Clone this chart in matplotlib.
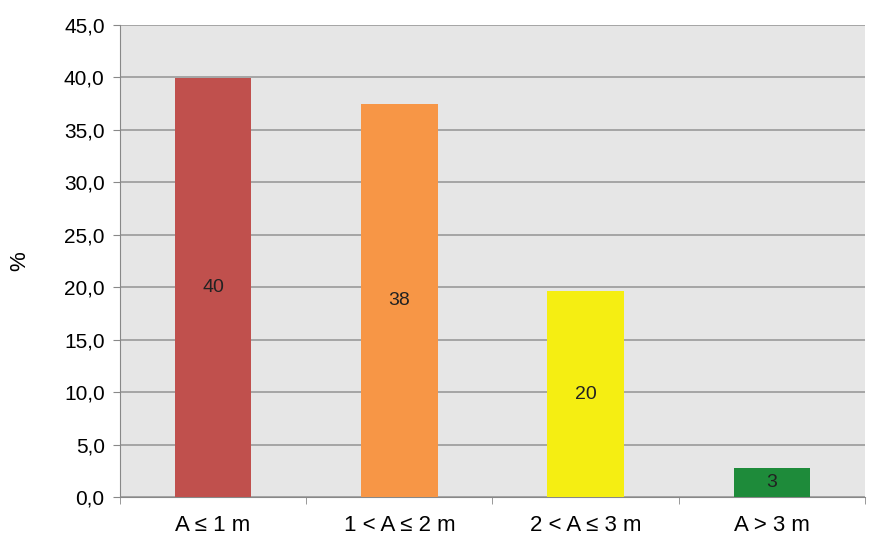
import matplotlib
matplotlib.use("Agg")
import matplotlib.pyplot as plt
from matplotlib.ticker import FuncFormatter

categories = ["A \u2264 1 m", "1 < A \u2264 2 m", "2 < A \u2264 3 m", "A > 3 m"]
values = [39.9, 37.5, 19.6, 2.8]
labels = ["40", "38", "20", "3"]
colors = ["#c0504d", "#f79646", "#f5ee12", "#1e8b3a"]

plt.rcParams['font.family'] = ['Liberation Sans', 'DejaVu Sans']

fig = plt.figure(figsize=(8.77, 5.4), dpi=100)
ax = fig.add_axes([0.1368, 0.0796, 0.8495, 0.8741])
ax.set_facecolor("#e6e6e6")

x = range(len(categories))
ax.bar(x, values, width=0.41, color=colors, zorder=3)
for xi, v, lab in zip(x, values, labels):
    ax.text(xi, v / 2, lab, ha="center", va="center", fontsize=14, color="#222222", zorder=4)

ax.set_xlim(-0.5, len(categories) - 0.5)
ax.set_ylim(0, 45)
ax.set_yticks([i * 5 for i in range(10)])
ax.yaxis.set_major_formatter(FuncFormatter(lambda v, p: ("%.1f" % v).replace(".", ",")))
ax.yaxis.grid(True, color="#9a9a9a", linewidth=1.2, zorder=0)

ax.set_xticks(list(x))
ax.set_xticklabels(categories, fontsize=16)
ax.set_xticks([i + 0.5 for i in range(-1, len(categories))], minor=True)
ax.tick_params(axis="x", which="major", length=0, pad=13)
ax.tick_params(axis="x", which="minor", length=5, color="#888888")
ax.tick_params(axis="y", length=5, color="#888888", labelsize=15, pad=6)

for s in ["top", "right"]:
    ax.spines[s].set_visible(False)
ax.spines["left"].set_color("#888888")
ax.spines["bottom"].set_color("#888888")

ax.set_ylabel("%", fontsize=16, labelpad=24)

fig.savefig("out.png", dpi=100)
